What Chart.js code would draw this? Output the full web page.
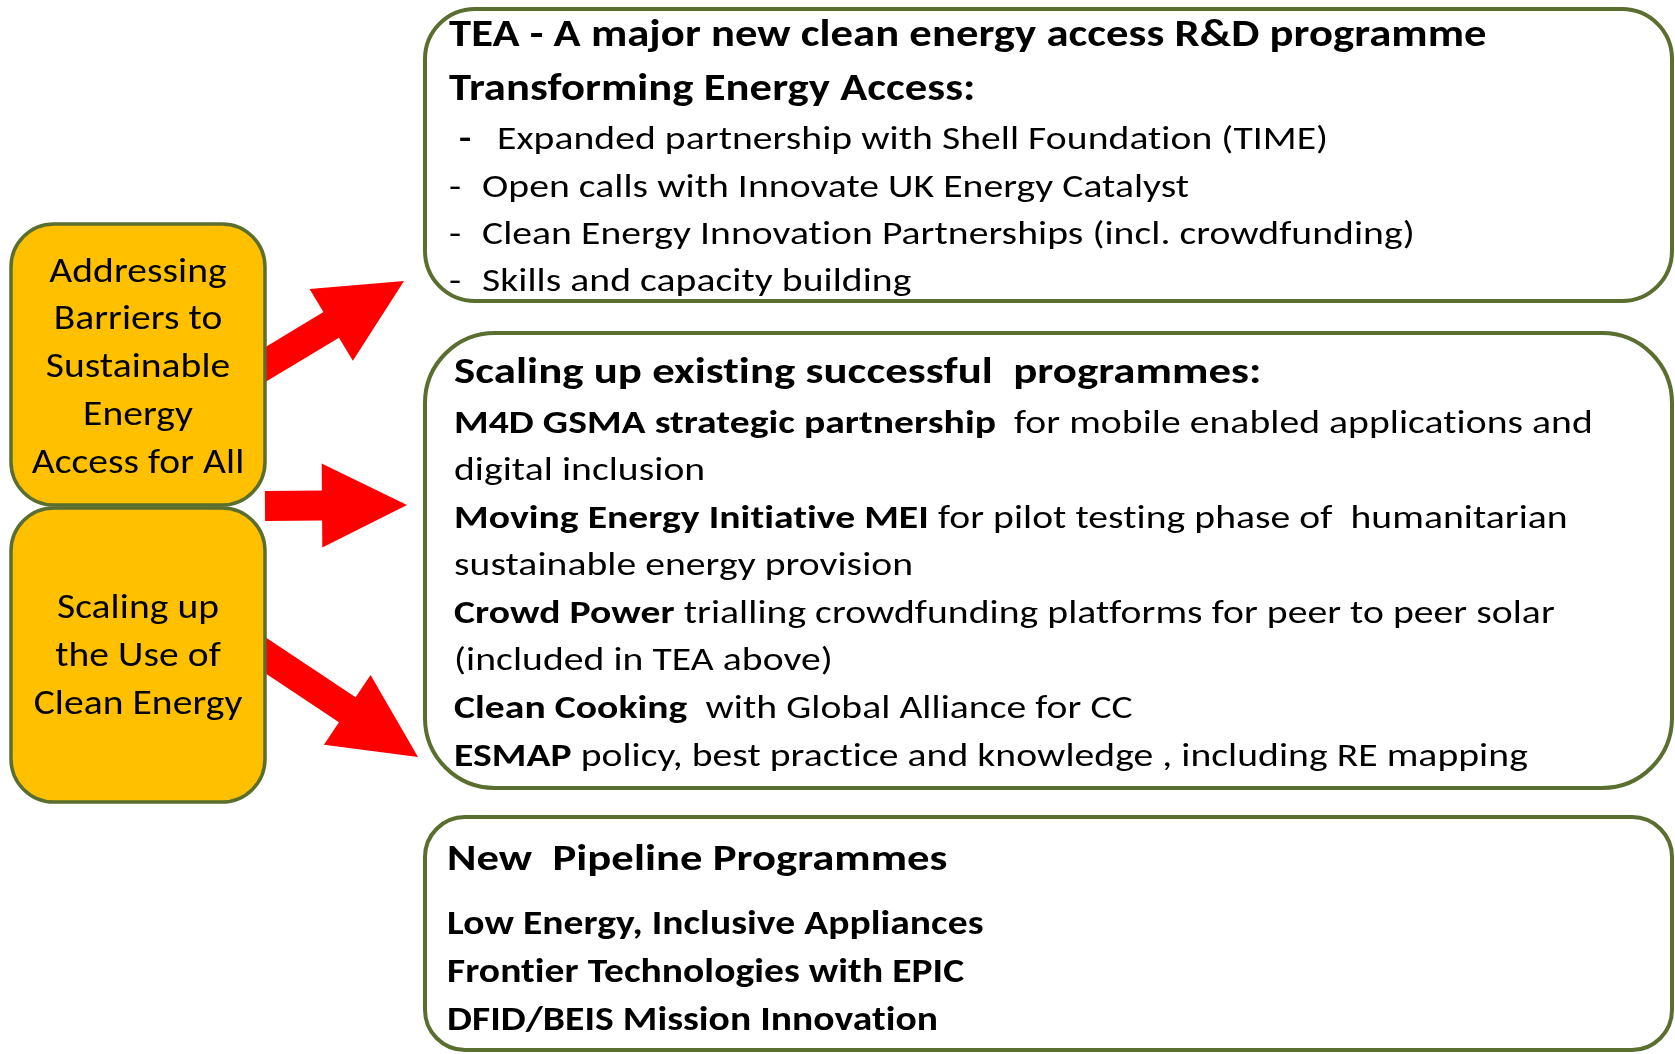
<!DOCTYPE html>
<html>
<head>
<meta charset="utf-8">
<title>Clean energy access programmes</title>
<script src="https://cdn.jsdelivr.net/npm/chart.js@4.4.0/dist/chart.umd.min.js"></script>
<style>
    html, body { margin: 0; padding: 0; background: #ffffff; overflow: hidden; }
    #wrap { position: relative; width: 1675px; height: 1054px; }
</style>
</head>
<body>
<div id="wrap"><canvas id="diagram"></canvas></div>
<script>
// Text content (segments wrapped in ** are bold)
const leftTopLines = ['Addressing', 'Barriers to', 'Sustainable', 'Energy', 'Access for All'];
const leftBottomLines = ['Scaling up', 'the Use of', 'Clean Energy'];

const teaTitles = ['TEA - A major new clean energy access R&D programme', 'Transforming Energy Access:'];
const teaBullets = [
    'Expanded partnership with Shell Foundation (TIME)',
    'Open calls with Innovate UK Energy Catalyst',
    'Clean Energy Innovation Partnerships (incl. crowdfunding)',
    'Skills and capacity building'
];

const scalingLines = [
    '**Scaling up existing successful  programmes:**',
    '**M4D GSMA strategic partnership**  for mobile enabled applications and',
    'digital inclusion',
    '**Moving Energy Initiative MEI** for pilot testing phase of  humanitarian',
    'sustainable energy provision',
    '**Crowd Power** trialling crowdfunding platforms for peer to peer solar',
    '(included in TEA above)',
    '**Clean Cooking**  with Global Alliance for CC',
    '**ESMAP** policy, best practice and knowledge , including RE mapping'
];

const pipelineLines = [
    'New  Pipeline Programmes',
    'Low Energy, Inclusive Appliances',
    'Frontier Technologies with EPIC',
    'DFID/BEIS Mission Innovation'
];

// Layout (diagram units = pixels of the 1675x1054 page)
const FONT = 'Carlito, Calibri, Lato, sans-serif';
const BORDER = '#5a6e2f';
const YELLOW = '#ffc000';
const RED = '#ff0000';
const TEXT_DY = 2.5;

const layout = {
    leftTop:    { x: 11, y: 224, w: 254, h: 281, r: 43 },
    leftBottom: { x: 11, y: 508, w: 254, h: 294, r: 43 },
    tea:        { x: 425, y: 9, w: 1247, h: 292, r: 50 },
    scaling:    { x: 425, y: 333, w: 1247, h: 455, r: 70 },
    pipeline:   { x: 425, y: 817, w: 1247, h: 233, r: 40 }
};

const arrows = [
    { from: [253, 372], to: [404, 281] },
    { from: [265, 506], to: [407, 505] },
    { from: [253, 647], to: [418, 757] }
];

const leftTopY = [271, 318, 366, 414, 462];
const leftBottomY = [607, 655, 703];
const teaTitleY = [34, 88];
const teaBulletY = [138, 186, 233, 280];
const scalingY = [371, 422, 469, 517, 564, 612, 659, 707, 755];
const pipelineY = [858, 923, 971, 1019];

function roundRect(ctx, x, y, w, h, r) {
    ctx.beginPath();
    ctx.moveTo(x + r, y);
    ctx.lineTo(x + w - r, y);
    ctx.arcTo(x + w, y, x + w, y + r, r);
    ctx.lineTo(x + w, y + h - r);
    ctx.arcTo(x + w, y + h, x + w - r, y + h, r);
    ctx.lineTo(x + r, y + h);
    ctx.arcTo(x, y + h, x, y + h - r, r);
    ctx.lineTo(x, y + r);
    ctx.arcTo(x, y, x + r, y, r);
    ctx.closePath();
}

// draws a line of mixed bold / regular text, stretched horizontally by k
function drawRich(ctx, text, x, y, size, allBold, k) {
    const parts = text.split('**');
    ctx.save();
    ctx.translate(x, y);
    ctx.scale(k, 1);
    let cx = 0;
    parts.forEach((part, i) => {
        if (!part) return;
        const bold = allBold || i % 2 === 1;
        ctx.font = (bold ? 'bold ' : '') + size + 'px ' + FONT;
        ctx.fillText(part, cx, 0);
        cx += ctx.measureText(part).width;
    });
    ctx.restore();
}

const diagramPlugin = {
    id: 'diagram',
    afterDraw(chart) {
        const ctx = chart.ctx;
        const sx = v => chart.scales.x.getPixelForValue(v);
        const sy = v => chart.scales.y.getPixelForValue(v);
        const box = b => roundRect(ctx, sx(b.x), sy(b.y), sx(b.x + b.w) - sx(b.x), sy(b.y + b.h) - sy(b.y), b.r);

        ctx.save();

        // arrows first, the yellow boxes cover their tails
        ctx.fillStyle = RED;
        arrows.forEach(a => {
            const x0 = sx(a.from[0]), y0 = sy(a.from[1]);
            const x1 = sx(a.to[0]), y1 = sy(a.to[1]);
            const len = Math.hypot(x1 - x0, y1 - y0);
            const ux = (x1 - x0) / len, uy = (y1 - y0) / len;
            const nx = -uy, ny = ux;
            const shaft = 15, head = 42, headLen = 85;
            const bx = x1 - ux * headLen, by = y1 - uy * headLen;
            ctx.beginPath();
            ctx.moveTo(x0 + nx * shaft, y0 + ny * shaft);
            ctx.lineTo(bx + nx * shaft, by + ny * shaft);
            ctx.lineTo(bx + nx * head, by + ny * head);
            ctx.lineTo(x1, y1);
            ctx.lineTo(bx - nx * head, by - ny * head);
            ctx.lineTo(bx - nx * shaft, by - ny * shaft);
            ctx.lineTo(x0 - nx * shaft, y0 - ny * shaft);
            ctx.closePath();
            ctx.fill();
        });

        // boxes
        ctx.strokeStyle = BORDER;
        [layout.leftTop, layout.leftBottom].forEach(b => {
            box(b);
            ctx.fillStyle = YELLOW;
            ctx.fill();
            ctx.lineWidth = 3.5;
            ctx.stroke();
        });
        [layout.tea, layout.scaling, layout.pipeline].forEach(b => {
            box(b);
            ctx.fillStyle = '#ffffff';
            ctx.fill();
            ctx.lineWidth = 4;
            ctx.stroke();
        });

        // texts (a tiny letter spacing keeps Lato from using its "ti" ligature)
        ctx.fillStyle = '#000000';
        ctx.textBaseline = 'middle';
        ctx.textAlign = 'left';
        if ('letterSpacing' in ctx) ctx.letterSpacing = '0.05px';

        const centred = (t, cy) => {
            ctx.font = '35px ' + FONT;
            const w = ctx.measureText(t).width * 1.13;
            drawRich(ctx, t, sx(138) - w / 2, sy(cy + TEXT_DY), 35, false, 1.13);
        };
        leftTopLines.forEach((t, i) => centred(t, leftTopY[i]));
        leftBottomLines.forEach((t, i) => centred(t, leftBottomY[i]));

        teaTitles.forEach((t, i) => drawRich(ctx, t, sx(449), sy(teaTitleY[i] + TEXT_DY), 38, true, 1.175));
        teaBullets.forEach((t, i) => {
            const first = i === 0;
            const y = sy(teaBulletY[i] + TEXT_DY);
            drawRich(ctx, '-', sx(first ? 459 : 449), y, 33, first, 1.2);
            drawRich(ctx, t, sx(first ? 497 : 482), y, 33, false, 1.2);
        });

        scalingLines.forEach((t, i) => drawRich(ctx, t, sx(454), sy(scalingY[i] + TEXT_DY),
            i === 0 ? 36 : 33, false, i === 0 ? 1.245 : 1.2));

        pipelineLines.forEach((t, i) => drawRich(ctx, t, sx(447), sy(pipelineY[i] + TEXT_DY),
            i === 0 ? 37 : 35, true, i === 0 ? 1.207 : 1.13));

        ctx.restore();
    }
};

new Chart(document.getElementById('diagram'), {
    type: 'scatter',
    data: { datasets: [{ data: [], pointRadius: 0 }] },
    options: {
        responsive: true,
        maintainAspectRatio: false,
        animation: false,
        layout: { padding: 0 },
        plugins: { legend: { display: false }, tooltip: { enabled: false } },
        scales: {
            x: { type: 'linear', min: 0, max: 1675, display: false },
            y: { type: 'linear', min: 0, max: 1054, reverse: true, display: false }
        }
    },
    plugins: [diagramPlugin]
});
</script>
</body>
</html>
